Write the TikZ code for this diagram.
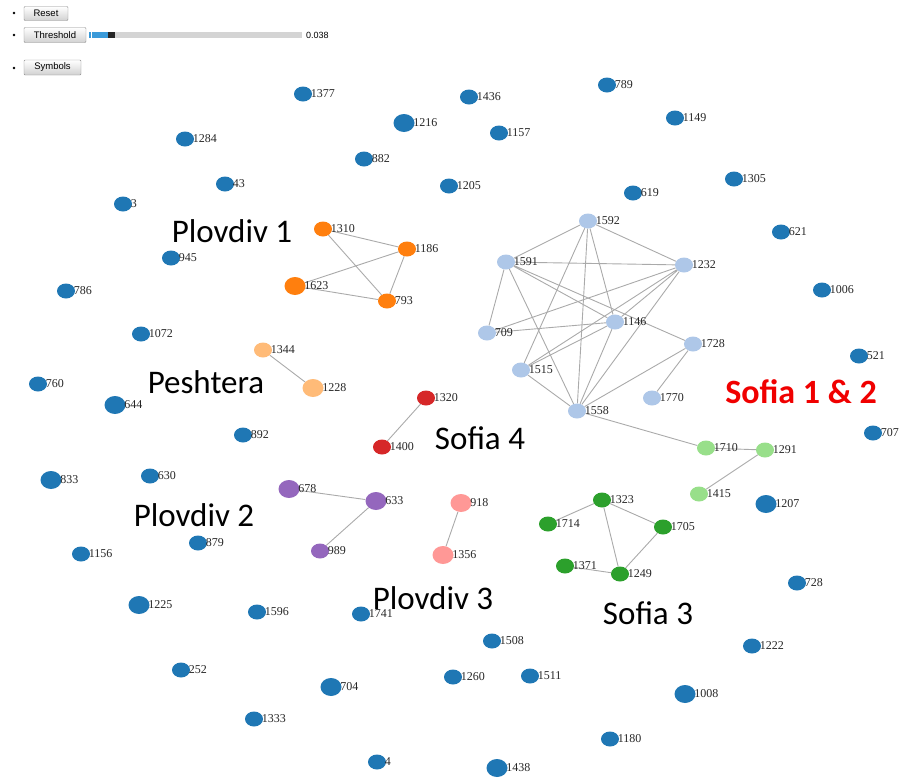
\documentclass[tikz,border=0pt]{standalone}
\usepackage{fontspec}
\setmainfont{Liberation Serif}
\newfontfamily\carl{Carlito}
\newfontfamily\uisans{Liberation Sans}
\usetikzlibrary{shapes.geometric,backgrounds}
\definecolor{cblue}{HTML}{1F77B4}
\definecolor{corange}{HTML}{FF7F0E}
\definecolor{clorange}{HTML}{FFBB78}
\definecolor{cred}{HTML}{D62728}
\definecolor{cpurple}{HTML}{9467BD}
\definecolor{cpink}{HTML}{FF9896}
\definecolor{cgreen}{HTML}{2CA02C}
\definecolor{clgreen}{HTML}{98DF8A}
\definecolor{clblue}{HTML}{AEC7E8}
\definecolor{cedge}{HTML}{AAAAAA}
\definecolor{cslider}{HTML}{3A9AD9}
\begin{document}
\begin{tikzpicture}[x=1pt,y=-1pt,
  nd/.style={ellipse,minimum width=18pt,minimum height=15pt,inner sep=0pt,draw=none},
  big/.style={minimum width=21pt,minimum height=18pt},
  bn/.style={nd,fill=cblue},
  every label/.style={font=\fontsize{12}{12}\selectfont,inner sep=0.5pt,text=black!85},
  label distance=-2pt,
  edge/.style={draw=cedge,line width=0.9pt},
  grp/.style={font=\carl\fontsize{33}{33}\selectfont,inner sep=0pt},
  btn/.style={draw=black!45,top color=white,bottom color=black!18,rounded corners=1pt,
    font=\uisans\fontsize{9.5}{10}\selectfont,inner sep=0pt,minimum height=14pt},
  bul/.style={circle,fill=black,inner sep=0pt,minimum size=2.6pt}]
\useasboundingbox (0,0) rectangle (914,780);
% controls
\node[bul] (bu1) at (14,13) {};
\node[bul] (bu2) at (14,35) {};
\node[bul] (bu3) at (14,68) {};
\node[btn,minimum width=44pt] (reset) at (46,13.5) {Reset};
\node[btn,minimum width=62pt,minimum height=15pt] (thr) at (55,35) {Threshold};
\node[btn,minimum width=57pt,minimum height=15pt] (sym) at (52.5,67.5) {Symbols};
\fill[black!17] (89,32) rectangle (302,38);
\fill[cslider] (89,32) rectangle (108,38);
\fill[white] (91,32) rectangle (92,38);
\fill[black!85] (108,32) rectangle (115,38);
\node[anchor=west,font=\uisans\fontsize{9}{9}\selectfont,inner sep=0pt] (val) at (306,35) {0.038};
% blue singletons
\node[bn,label=0:1377] (n1377) at (303,94) {};
\node[bn,label=0:1436] (n1436) at (469,97) {};
\node[bn,label=0:789] (n789) at (607,85) {};
\node[bn,big,label=0:1216] (n1216) at (404,123) {};
\node[bn,label=0:1157] (n1157) at (499,133) {};
\node[bn,label=0:1149] (n1149) at (675,118) {};
\node[bn,label=0:1284] (n1284) at (185,139) {};
\node[bn,label=0:882] (n882) at (364,159) {};
\node[bn,label=0:1205] (n1205) at (449,186) {};
\node[bn,label=0:619] (n619) at (633,193) {};
\node[bn,label=0:1305] (n1305) at (734,179) {};
\node[bn,label=0:43] (n43) at (225,184) {};
\node[bn,label=0:3] (n3) at (123,204) {};
\node[bn,label=0:945] (n945) at (171,258) {};
\node[bn,label=0:621] (n621) at (781,232) {};
\node[bn,label=0:786] (n786) at (66,291) {};
\node[bn,label=0:1006] (n1006) at (822,290) {};
\node[bn,label=0:1072] (n1072) at (141,334) {};
\node[bn,label=0:760] (n760) at (38,384) {};
\node[bn,big,label=0:644] (n644) at (115,405) {};
\node[bn,label=0:521] (n521) at (859,356) {};
\node[bn,label=0:892] (n892) at (243,435) {};
\node[bn,label=0:707] (n707) at (873,433) {};
\node[bn,big,label=0:833] (n833) at (51,480) {};
\node[bn,label=0:630] (n630) at (150,476) {};
\node[bn,big,label=0:1207] (n1207) at (766,504) {};
\node[bn,label=0:1156] (n1156) at (81,554) {};
\node[bn,label=0:879] (n879) at (198,543) {};
\node[bn,label=0:728] (n728) at (797,583) {};
\node[bn,big,label=0:1225] (n1225) at (139,605) {};
\node[bn,label=0:1596] (n1596) at (257,612) {};
\node[bn,label=0:1741] (n1741) at (361,614) {};
\node[bn,label=0:1508] (n1508) at (492,641) {};
\node[bn,label=0:1222] (n1222) at (752,646) {};
\node[bn,label=0:252] (n252) at (181,670) {};
\node[bn,label=0:1260] (n1260) at (453,677) {};
\node[bn,label=0:1511] (n1511) at (530,676) {};
\node[bn,big,label=0:704] (n704) at (331,687) {};
\node[bn,big,label=0:1008] (n1008) at (685,694) {};
\node[bn,label=0:1333] (n1333) at (254,719) {};
\node[bn,label=0:1180] (n1180) at (610,739) {};
\node[bn,label=0:4] (n4) at (377,762) {};
\node[bn,big,label=0:1438] (n1438) at (497,768) {};
% Plovdiv 1
\node[nd,fill=corange,label=0:1310] (n1310) at (323,229) {};
\node[nd,fill=corange,label=0:1186] (n1186) at (407,249) {};
\node[nd,big,fill=corange,label=0:1623] (n1623) at (295,286) {};
\node[nd,fill=corange,label=0:793] (n793) at (387,301) {};
% Peshtera
\node[nd,fill=clorange,label=0:1344] (n1344) at (263,350) {};
\node[nd,big,fill=clorange,label=0:1228] (n1228) at (313,388) {};
% Sofia 4
\node[nd,fill=cred,label=0:1320] (n1320) at (426,398) {};
\node[nd,fill=cred,label=0:1400] (n1400) at (382,447) {};
% Plovdiv 2
\node[nd,big,fill=cpurple,label=0:678] (n678) at (289,489) {};
\node[nd,big,fill=cpurple,label=0:633] (n633) at (376,501) {};
\node[nd,fill=cpurple,label=0:989] (n989) at (320,551) {};
% Plovdiv 3
\node[nd,big,fill=cpink,label=0:918] (n918) at (461,503) {};
\node[nd,big,fill=cpink,label=0:1356] (n1356) at (443,555) {};
% Sofia 3
\node[nd,fill=cgreen,label=0:1323] (n1323) at (602,500) {};
\node[nd,fill=cgreen,label=0:1714] (n1714) at (548,524) {};
\node[nd,fill=cgreen,label=0:1705] (n1705) at (663,527) {};
\node[nd,fill=cgreen,label=0:1371] (n1371) at (565,566) {};
\node[nd,fill=cgreen,label=0:1249] (n1249) at (620,574) {};
% light green
\node[nd,fill=clgreen,label=0:1710] (n1710) at (706,448) {};
\node[nd,fill=clgreen,label=0:1291] (n1291) at (765,450) {};
\node[nd,fill=clgreen,label=0:1415] (n1415) at (699,494) {};
% Sofia 1 & 2
\node[nd,fill=clblue,label=0:1592] (n1592) at (588,221) {};
\node[nd,fill=clblue,label=0:1591] (n1591) at (506,262) {};
\node[nd,fill=clblue,label=0:1232] (n1232) at (684,265) {};
\node[nd,fill=clblue,label=0:709] (n709) at (487,333) {};
\node[nd,fill=clblue,label=0:1146] (n1146) at (615,322) {};
\node[nd,fill=clblue,label=0:1728] (n1728) at (693,344) {};
\node[nd,fill=clblue,label=0:1515] (n1515) at (521,370) {};
\node[nd,fill=clblue,label=0:1770] (n1770) at (652,398) {};
\node[nd,fill=clblue,label=0:1558] (n1558) at (577,411) {};
% edges
\begin{scope}[on background layer]
\draw[edge] (n1310)--(n1186) (n1310)--(n793) (n1186)--(n1623) (n1186)--(n793) (n1623)--(n793);
\draw[edge] (n1344)--(n1228);
\draw[edge] (n1320)--(n1400);
\draw[edge] (n678)--(n633) (n633)--(n989);
\draw[edge] (n918)--(n1356);
\draw[edge] (n1323)--(n1714) (n1323)--(n1705) (n1323)--(n1249) (n1705)--(n1249) (n1371)--(n1249);
\draw[edge] (n1710)--(n1291) (n1291)--(n1415) (n1558)--(n1710);
\draw[edge] (n1592)--(n1591) (n1592)--(n1232) (n1592)--(n1515) (n1592)--(n1558) (n1592)--(n1146);
\draw[edge] (n1591)--(n1232) (n1591)--(n709) (n1591)--(n1558) (n1591)--(n1146) (n1591)--(n1728);
\draw[edge] (n1232)--(n709) (n1232)--(n1515) (n1232)--(n1146) (n1232)--(n1558);
\draw[edge] (n709)--(n1146) (n1146)--(n1515) (n1146)--(n1558) (n1515)--(n1558);
\draw[edge] (n1728)--(n1558) (n1728)--(n1770);
\end{scope}
% group labels
\node[grp] (gP1) at (232,231) {Plovdiv 1};
\node[grp] (gPe) at (206,382) {Peshtera};
\node[grp] (gS4) at (480,438) {Sofia 4};
\node[grp] (gP2) at (194,515) {Plovdiv 2};
\node[grp] (gP3) at (433,598) {Plovdiv 3};
\node[grp] (gS3) at (648,613) {Sofia 3};
\node[grp,font=\carl\bfseries\fontsize{34}{34}\selectfont,text={rgb,255:red,240;green,0;blue,0}] (gS12) at (801,392) {Sofia 1 \& 2};
\end{tikzpicture}
\end{document}
